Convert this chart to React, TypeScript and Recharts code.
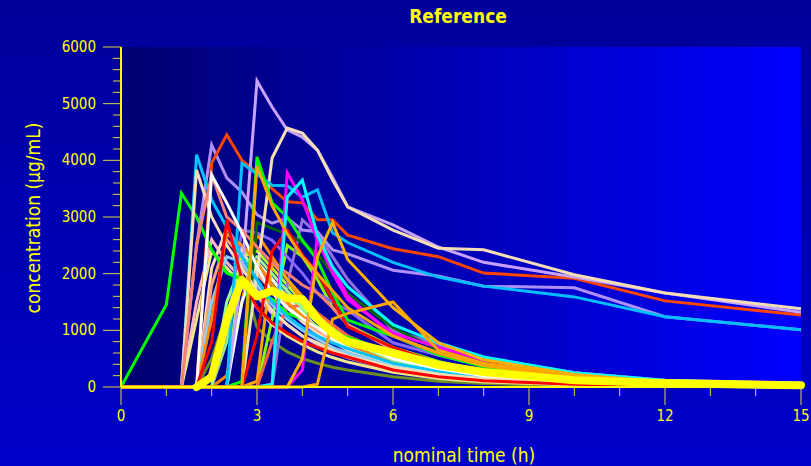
import React from "react";
import { LineChart, Line, XAxis, YAxis, CartesianGrid } from "recharts";

// nominal sampling times (h)
const times = [0, 1, 1.333, 1.667, 2, 2.333, 2.667, 3, 3.333, 3.667, 4, 4.333, 4.667, 5, 6, 7, 8, 10, 12, 15];

const xTicks = [0, 1, 2, 3, 4, 5, 6, 7, 8, 9, 10, 11, 12, 13, 14, 15];
const yTicks = Array.from({ length: 31 }, (_, i) => i * 200);

// lower pack of subjects
const olive = [0, 0, 0, 0, 500, 1300, 2000, 1050, 800, 620, 500, 420, 350, 300, 180, 100, 60, 25, 10, 3];
const lightGreen = [0, 0, 0, 0, 0, 800, 2450, 2200, 1900, 1600, 1350, 1150, 950, 800, 500, 300, 180, 80, 30, 10];
const greenYellow = [0, 0, 0, 0, 0, 0, 2300, 2400, 2100, 1800, 1500, 1250, 1050, 900, 550, 320, 200, 80, 30, 10];
const pink = [0, 0, 0, 1500, 2600, 2200, 1900, 1600, 1300, 1100, 900, 750, 620, 520, 300, 180, 110, 45, 15, 5];
const peach = [0, 0, 0, 0, 2100, 2800, 2400, 2000, 1700, 1400, 1150, 950, 800, 650, 400, 250, 150, 60, 20, 5];
const chartreuse = [0, 0, 0, 0, 0, 0, 0, 0, 1200, 2500, 2300, 1900, 1400, 1100, 700, 450, 280, 120, 45, 15];
const darkOrange = [0, 0, 0, 0, 0, 200, 1500, 2700, 2300, 1900, 1500, 1200, 950, 750, 450, 280, 170, 70, 25, 8];
const mediumPurple = [0, 0, 0, 0, 0, 0, 0, 0, 0, 1800, 2950, 2700, 2300, 1900, 1000, 750, 520, 250, 110, 40];
const slateBlue = [0, 0, 0, 0, 0, 1000, 2770, 2720, 2590, 2300, 2010, 1660, 1500, 1360, 780, 560, 380, 180, 70, 25];
const lightSalmon = [0, 0, 0, 0, 1800, 2600, 2300, 2000, 1700, 1450, 1200, 1000, 850, 700, 420, 260, 160, 65, 25, 8];
const honeydew = [0, 0, 0, 0, 0, 0, 1500, 2200, 1900, 1550, 1300, 1050, 850, 700, 400, 230, 140, 60, 20, 5];
const khaki = [0, 0, 0, 1200, 2400, 2100, 1800, 1400, 1100, 900, 750, 620, 520, 440, 260, 150, 90, 35, 12, 4];
const skyLight = [0, 0, 0, 0, 1500, 2300, 2200, 1800, 1450, 1200, 1000, 850, 700, 600, 360, 220, 130, 55, 20, 5];
const orangeMid = [0, 0, 0, 0, 0, 0, 0, 100, 2200, 1900, 1600, 1300, 1100, 900, 550, 350, 210, 90, 35, 10];
const tomato = [0, 0, 0, 0, 0, 0, 0, 0, 800, 1400, 1450, 1300, 1100, 900, 550, 330, 200, 90, 30, 10];
const orangeEarly = [0, 0, 0, 0, 1200, 2700, 2500, 2200, 1800, 1500, 1250, 1050, 900, 750, 450, 280, 170, 70, 25, 8];
const paleGreen = [0, 0, 0, 0, 0, 1500, 2200, 2300, 2000, 1700, 1400, 1150, 950, 800, 480, 290, 170, 70, 25, 8];

// upper subjects
const greenEarly = [0, 1450, 3420, 3000, 2420, 2010, 1900, 1650, 1550, 1300, 1200, 1060, 950, 880, 600, 420, 300, 150, 70, 25];
const orangeRed = [0, 0, 0, 0, 3950, 4450, 4000, 3780, 3500, 3270, 3250, 2950, 2950, 2680, 2440, 2300, 2010, 1920, 1520, 1270];
const lavender = [0, 0, 0, 0, 0, 0, 2000, 5400, 4940, 4540, 4410, 4180, 3700, 3180, 2860, 2470, 2200, 1940, 1660, 1320];
const wheat = [0, 0, 0, 0, 0, 0, 0, 2000, 4040, 4570, 4480, 4180, 3650, 3180, 2770, 2450, 2420, 1980, 1660, 1380];
const deepSky = [0, 0, 0, 0, 0, 0, 3950, 3760, 3560, 3550, 3350, 3480, 2720, 2550, 2200, 1940, 1780, 1590, 1240, 1010];
const lavender2 = [0, 0, 0, 2500, 4270, 3690, 3440, 3040, 2890, 2980, 2770, 2740, 2420, 2350, 2060, 1960, 1780, 1750, 1240, 1010];
const deepSkyEarly = [0, 0, 0, 4100, 3300, 2820, 2300, 1900, 1500, 1250, 1050, 900, 780, 680, 420, 280, 180, 80, 30, 10];
const wheatEarly = [0, 0, 0, 3830, 3000, 2500, 2100, 1700, 1350, 1100, 900, 780, 650, 550, 350, 220, 150, 70, 25, 10];
const salmon = [0, 0, 0, 2500, 3740, 3000, 2770, 2470, 2200, 2010, 1800, 1660, 1400, 1100, 650, 420, 280, 130, 50, 15];
const white = [0, 0, 0, 0, 3740, 3250, 2720, 2120, 1660, 1400, 1200, 1050, 900, 830, 500, 320, 200, 90, 35, 10];
const redEarly = [0, 0, 0, 0, 800, 2950, 1890, 1410, 1130, 950, 800, 700, 600, 530, 300, 180, 110, 50, 20, 5];
const red2 = [0, 0, 0, 0, 0, 0, 0, 900, 2400, 2770, 2330, 2010, 1540, 1060, 700, 420, 260, 110, 40, 10];
const greenBig = [0, 0, 0, 0, 0, 0, 100, 4060, 3250, 3000, 2590, 2240, 1660, 1180, 900, 570, 360, 150, 60, 20];
const darkGreen = [0, 0, 0, 0, 0, 0, 0, 2900, 2800, 2700, 2550, 2350, 2000, 1650, 1050, 650, 400, 180, 70, 20];
const magenta1 = [0, 0, 0, 0, 0, 0, 0, 0, 50, 3780, 3300, 2590, 2010, 1540, 950, 700, 475, 250, 120, 70];
const magenta2 = [0, 0, 0, 0, 0, 0, 0, 0, 0, 0, 300, 2680, 2120, 1600, 900, 600, 400, 200, 90, 40];
const cyan = [0, 0, 0, 0, 0, 0, 0, 0, 50, 3350, 3650, 2680, 2120, 1770, 1100, 780, 530, 250, 120, 60];
const orangeLate = [0, 0, 0, 0, 0, 0, 0, 0, 0, 0, 0, 50, 1200, 1300, 1500, 650, 420, 200, 80, 30];
const orange2 = [0, 0, 0, 0, 0, 0, 0, 0, 0, 0, 500, 2300, 2900, 2250, 1400, 780, 480, 220, 90, 35];
const orange3 = [0, 0, 0, 0, 0, 0, 0, 3900, 3200, 2700, 2300, 2000, 1700, 1400, 900, 600, 380, 170, 70, 20];

// reference profile (thick yellow)
const reference = [null, null, null, 0, 180, 1180, 1890, 1600, 1700, 1570, 1550, 1200, 950, 800, 600, 390, 265, 120, 70, 30];

const seriesList = [
  { values: olive, color: "#6b8e23" },
  { values: lightGreen, color: "#90ee90" },
  { values: greenYellow, color: "#adff2f" },
  { values: pink, color: "#ffb6c1" },
  { values: peach, color: "#ffdab9" },
  { values: chartreuse, color: "#7fff00" },
  { values: darkOrange, color: "#ff8c00" },
  { values: mediumPurple, color: "#9370db" },
  { values: slateBlue, color: "#8866ff" },
  { values: lightSalmon, color: "#ffa07a" },
  { values: honeydew, color: "#f0fff0" },
  { values: khaki, color: "#f0e68c" },
  { values: skyLight, color: "#87cefa" },
  { values: orangeMid, color: "#ffa500" },
  { values: tomato, color: "#ff6347" },
  { values: orangeEarly, color: "#ff8c00" },
  { values: paleGreen, color: "#98fb98" },
  { values: darkGreen, color: "#006400" },
  { values: greenEarly, color: "#00ff00" },
  { values: lavender2, color: "#b090f8" },
  { values: orangeRed, color: "#ff4500" },
  { values: lavender, color: "#c8a2ff" },
  { values: wheat, color: "#f5deb3" },
  { values: deepSky, color: "#00bfff" },
  { values: deepSkyEarly, color: "#00c4ff" },
  { values: wheatEarly, color: "#f5deb3" },
  { values: salmon, color: "#fa8072" },
  { values: white, color: "#ffffff" },
  { values: redEarly, color: "#ff0000" },
  { values: red2, color: "#ff0000" },
  { values: greenBig, color: "#00ff00" },
  { values: magenta1, color: "#ff00ff" },
  { values: magenta2, color: "#ff00ff" },
  { values: cyan, color: "#00ffff" },
  { values: orangeLate, color: "#ffa500" },
  { values: orange2, color: "#ffb000" },
  { values: orange3, color: "#ffa500" },
];

const tableData = times.map((t, i) => {
  const row: Record<string, number | null> = { t };
  seriesList.forEach((s, j) => {
    row["s" + j] = s.values[i];
  });
  row.ref = reference[i];
  return row;
});

const FONT = "'DejaVu Sans Condensed', 'Liberation Sans Narrow', 'DejaVu Sans', sans-serif";
const TICK_COLOR = "#d8d840";

const YTick = (props: any) => {
  const { x, y, payload } = props;
  const major = payload.value % 1000 === 0;
  return (
    <g>
      <line x1={x - (major ? 18 : 8)} x2={x} y1={y} y2={y} stroke={TICK_COLOR} strokeWidth={1} />
      {major && (
        <text x={x - 25} y={y} textAnchor="end" dominantBaseline="central" fill="#ffff00" fontSize={15} fontFamily={FONT}>
          {payload.value}
        </text>
      )}
    </g>
  );
};

const XTick = (props: any) => {
  const { x, y, payload } = props;
  const major = payload.value % 3 === 0;
  return (
    <g>
      <line x1={x} x2={x} y1={y} y2={y + (major ? 18 : 9)} stroke={TICK_COLOR} strokeWidth={1} />
      {major && (
        <text x={x} y={y + 29} textAnchor="middle" dominantBaseline="central" fill="#ffff00" fontSize={15} fontFamily={FONT}>
          {payload.value}
        </text>
      )}
    </g>
  );
};

export default function App() {
  return (
    <div
      style={{
        position: "absolute",
        left: 0,
        top: 0,
        width: 811,
        height: 466,
        background: "linear-gradient(to bottom, #000099, #0000cc)",
        overflow: "hidden",
      }}
    >
      <svg width={0} height={0} style={{ position: "absolute" }}>
        <defs>
          <linearGradient id="plotGrad" x1="0" y1="0" x2="1" y2="0">
            <stop offset="0%" stopColor="#000070" />
            <stop offset="100%" stopColor="#0000ff" />
          </linearGradient>
        </defs>
      </svg>
      <LineChart width={811} height={466} data={tableData} margin={{ top: 47, right: 10, bottom: 0, left: 0 }}>
        <CartesianGrid fill="url(#plotGrad)" stroke="none" horizontal={false} vertical={false} />
        <XAxis
          dataKey="t"
          type="number"
          domain={[0, 15]}
          ticks={xTicks}
          interval={0}
          height={79}
          tickSize={0}
          tickMargin={0}
          tick={<XTick />}
          axisLine={{ stroke: "#ffff00", strokeWidth: 2 }}
          tickLine={false}
        />
        <YAxis
          type="number"
          domain={[0, 6000]}
          ticks={yTicks}
          interval={0}
          width={121}
          tickSize={0}
          tickMargin={0}
          tick={<YTick />}
          axisLine={{ stroke: "#ffff00", strokeWidth: 2 }}
          tickLine={false}
        />
        {seriesList.map((s, j) => (
          <Line
            key={"s" + j}
            dataKey={"s" + j}
            type="linear"
            stroke={s.color}
            strokeWidth={3}
            dot={false}
            activeDot={false}
            isAnimationActive={false}
          />
        ))}
        <Line
          dataKey="ref"
          type="linear"
          stroke="#ffff00"
          strokeWidth={8}
          strokeLinecap="round"
          strokeLinejoin="round"
          dot={false}
          activeDot={false}
          connectNulls={false}
          isAnimationActive={false}
        />
      </LineChart>
      <svg width={811} height={466} style={{ position: "absolute", left: 0, top: 0, pointerEvents: "none" }}>
        <text x={458} y={16} textAnchor="middle" dominantBaseline="central" fill="#ffff00" fontSize={19} fontWeight="bold" fontFamily={FONT}>
          Reference
        </text>
        <text x={464} y={455} textAnchor="middle" dominantBaseline="central" fill="#ffff00" fontSize={19} fontFamily={FONT}>
          nominal time (h)
        </text>
        <text
          x={33}
          y={218}
          textAnchor="middle"
          dominantBaseline="central"
          fill="#ffff00"
          fontSize={19}
          fontFamily={FONT}
          transform="rotate(-90 33 218)"
        >
          concentration (µg/mL)
        </text>
      </svg>
    </div>
  );
}
